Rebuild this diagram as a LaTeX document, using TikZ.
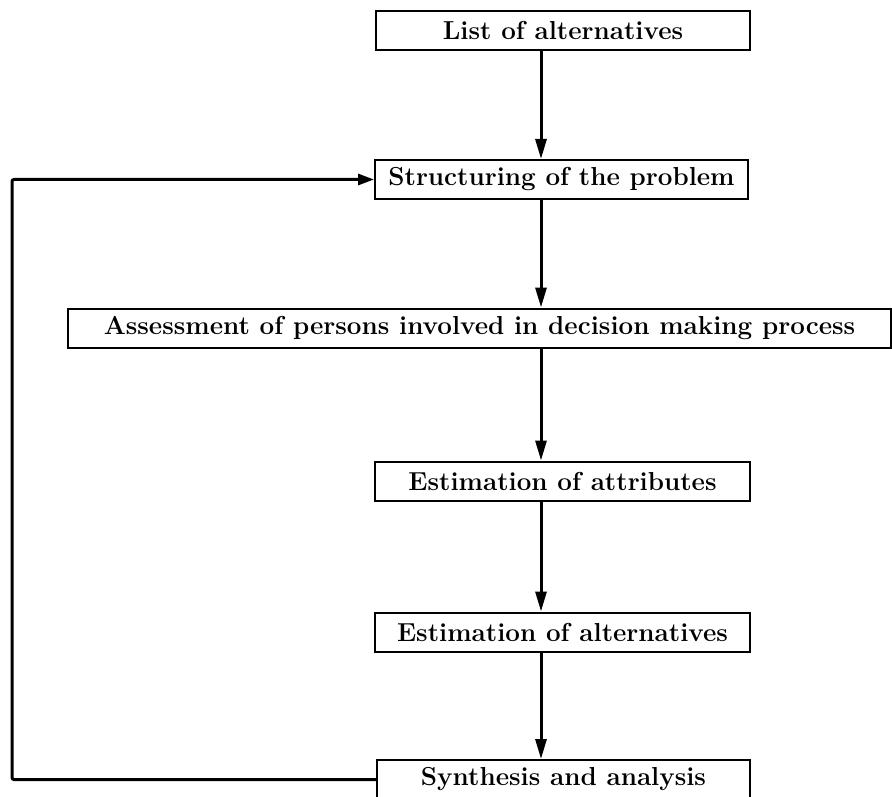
\documentclass[tikz,border=0pt]{standalone}
\usetikzlibrary{arrows.meta}
\begin{document}
\begin{tikzpicture}[x=1pt,y=-1pt,
  stagebox/.style={draw, line width=2pt, minimum height=39pt, inner sep=0pt,
    font=\fontsize{26}{30}\selectfont\bfseries},
  flow/.style={line width=3pt, -{Triangle[length=20pt,width=11pt]}},
  backline/.style={line width=3pt, rounded corners=2pt, -{Triangle[length=16pt,width=11pt]}}]
\clip (0,0) rectangle (892,797);
\fill[white] (0,0) rectangle (892,797);
\node[stagebox, minimum width=374pt] (list) at (563,30.5) {List of alternatives};
\node[stagebox, minimum width=373pt] (struct) at (561.5,179.5) {Structuring of the problem};
\node[stagebox, minimum width=823pt] (assess) at (479.5,328) {Assessment of persons involved in decision making process};
\node[stagebox, minimum width=375pt] (attr) at (562.5,481) {Estimation of attributes};
\node[stagebox, minimum width=375pt] (alt) at (562.5,632) {Estimation of alternatives};
\node[stagebox, minimum width=373pt] (synth) at (563.5,779.5) {Synthesis and analysis};
\coordinate (spine) at (541,0);
\coordinate (loopx) at (12,0);
\draw[flow] (list.south -| spine) -- (struct.north -| spine);
\draw[flow] (struct.south -| spine) -- (assess.north -| spine);
\draw[flow] (assess.south -| spine) -- (attr.north -| spine);
\draw[flow] (attr.south -| spine) -- (alt.north -| spine);
\draw[flow] (alt.south -| spine) -- (synth.north -| spine);
\draw[backline] (synth.west) -- (synth.west -| loopx) -- (struct.west -| loopx) -- (struct.west);
\end{tikzpicture}
\end{document}
